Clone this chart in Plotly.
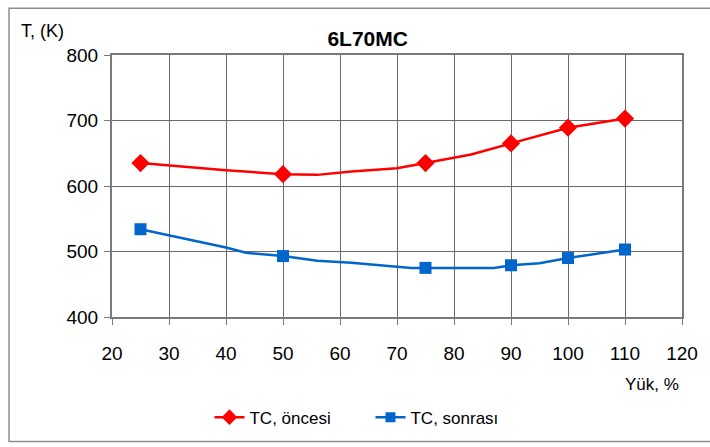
import plotly.graph_objects as go

# Marked measurement points (engine load, %)
load_pts = [25, 50, 75, 90, 100, 110]
tc_before = [635, 618, 635, 665, 689, 703]   # temperature before turbocharger, K
tc_after = [534, 493, 475, 479, 490, 503]    # temperature after turbocharger, K

# Curve vertices traced between the marked points
before_curve_x = [25, 40, 50, 56, 62, 70, 75, 83, 90, 100, 110]
before_curve_y = [635, 624, 618, 617, 622, 627, 635, 648, 665, 689, 703]
after_curve_x = [25, 40, 43.5, 50, 56, 62, 72.5, 75, 87, 90, 95, 100, 110]
after_curve_y = [534, 506, 498, 493, 486, 483, 475, 475, 475, 479, 482, 490, 503]

x_ticks = [20, 30, 40, 50, 60, 70, 80, 90, 100, 110, 120]
y_ticks = [400, 500, 600, 700, 800]

RED = "#FF0000"
BLUE = "#0066CC"
GRID = "#6a6a6a"
FONT = "Liberation Sans, Arial, sans-serif"

fig = go.Figure()

series = [
    ("TC, öncesi", before_curve_x, before_curve_y, tc_before, RED, "diamond", 14),
    ("TC, sonrası", after_curve_x, after_curve_y, tc_after, BLUE, "square", 12),
]
for name, cx, cy, my, color, symbol, size in series:
    fig.add_trace(go.Scatter(x=cx, y=cy, mode="lines", line=dict(color=color, width=2.5),
                             showlegend=False, hoverinfo="skip"))
    fig.add_trace(go.Scatter(x=load_pts, y=my, mode="markers",
                             marker=dict(color=color, symbol=symbol, size=size),
                             showlegend=False, name=name))
    # legend entry
    fig.add_trace(go.Scatter(x=[None], y=[None], mode="lines+markers", name=name,
                             line=dict(color=color, width=2.5),
                             marker=dict(color=color, symbol=symbol, size=size - 2)))

axis_common = dict(
    showgrid=True, gridcolor=GRID, gridwidth=1,
    showline=True, linecolor="#7a7a7a", linewidth=2, mirror=True,
    ticks="outside", ticklen=6, tickcolor="#7a7a7a", tickwidth=1,
    tickfont=dict(family=FONT, size=19, color="#000000"),
    zeroline=False,
)

fig.update_xaxes(range=[20, 120], tickvals=x_ticks, ticklabelstandoff=12, **axis_common)
fig.update_yaxes(range=[400, 800], tickvals=y_ticks, ticklabelstandoff=2, **axis_common)

fig.update_layout(
    width=710, height=447,
    margin=dict(l=112, r=25, t=55, b=129),
    paper_bgcolor="white", plot_bgcolor="white",
    title=dict(text="<b>6L70MC</b>", x=(369 - 112) / 573, xanchor="center", xref="paper",
               y=1 - 38.5 / 447, yanchor="middle",
               font=dict(family=FONT, size=21, color="#000000")),
    legend=dict(orientation="h", x=(210 - 112) / 573, xanchor="left",
                y=(318 - 419) / 263, yanchor="middle",
                font=dict(family=FONT, size=17, color="#000000"),
                entrywidth=116, bgcolor="rgba(0,0,0,0)"),
    annotations=[
        dict(text="T, (K)", xref="paper", yref="paper", x=(19 - 112) / 573, y=(318 - 31) / 263,
             xanchor="left", yanchor="middle", showarrow=False,
             font=dict(family=FONT, size=18, color="#000000")),
        dict(text="Yük, %", xref="paper", yref="paper", x=(684 - 112) / 573, y=(318 - 386) / 263,
             xanchor="right", yanchor="middle", showarrow=False,
             font=dict(family=FONT, size=17, color="#000000")),
    ],
    shapes=[
        dict(type="rect", xref="paper", yref="paper",
             x0=(8.5 - 112) / 573, x1=(714 - 112) / 573,
             y0=(318 - 443) / 263, y1=(318 - 8) / 263,
             line=dict(color="#8c8c8c", width=1.5), fillcolor="rgba(0,0,0,0)", layer="below"),
    ],
)

fig.write_html("out.html")
